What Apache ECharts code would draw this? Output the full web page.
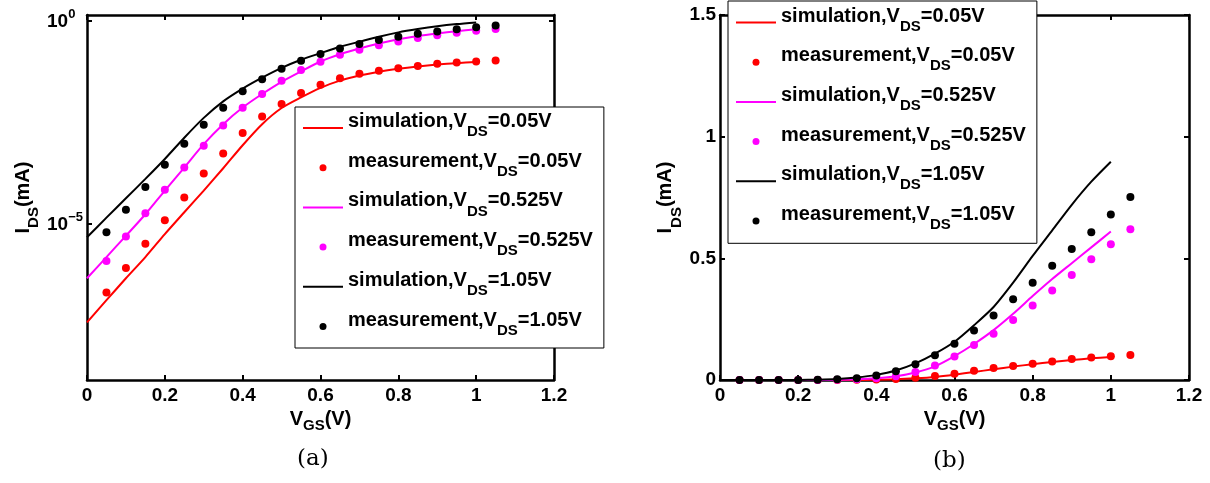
<!DOCTYPE html>
<html><head><meta charset="utf-8">
<script src="https://cdn.jsdelivr.net/npm/echarts@6/dist/echarts.min.js"></script>
<style>html,body{margin:0;padding:0;background:#fff}#c{width:1210px;height:483px}</style>
</head><body><div id="c"></div>
<script>
// ---- data ----
const vgsSim  = [0, 0.05, 0.1, 0.15, 0.2, 0.25, 0.3, 0.35, 0.4, 0.45, 0.5, 0.55, 0.6, 0.65, 0.7, 0.75, 0.8, 0.85, 0.9, 0.95, 1.0];
const vgsMeas = [0.05, 0.1, 0.15, 0.2, 0.25, 0.3, 0.35, 0.4, 0.45, 0.5, 0.55, 0.6, 0.65, 0.7, 0.75, 0.8, 0.85, 0.9, 0.95, 1.0, 1.05];
const simVds005  = [3.7e-8, 1.3e-7, 4.5e-7, 1.5e-6, 5.5e-6, 1.9e-5, 6.5e-5, 2.3e-4, 8.5e-4, 2.8e-3, 7.0e-3, 0.0128, 0.022, 0.033, 0.044, 0.055, 0.065, 0.074, 0.082, 0.089, 0.095];
const simVds0525 = [4.5e-7, 1.5e-6, 5e-6, 1.7e-5, 6.5e-5, 2.4e-4, 9e-4, 2.8e-3, 7.2e-3, 0.0155, 0.031, 0.056, 0.098, 0.148, 0.205, 0.272, 0.345, 0.415, 0.48, 0.545, 0.61];
const simVds105  = [4.6e-6, 1.4e-5, 4.2e-5, 1.26e-4, 3.9e-4, 1.3e-3, 4.0e-3, 0.0102, 0.021, 0.039, 0.068, 0.108, 0.157, 0.225, 0.30, 0.40, 0.51, 0.615, 0.72, 0.815, 0.897];
const measVds005  = [2.0e-7, 8.1e-7, 3.2e-6, 1.2e-5, 4.4e-5, 1.7e-4, 5.3e-4, 1.7e-3, 4.3e-3, 8.8e-3, 0.0165, 0.026, 0.038, 0.049, 0.058, 0.067, 0.076, 0.086, 0.092, 0.098, 0.103];
const measVds0525 = [1.2e-6, 4.8e-6, 1.8e-5, 6.8e-5, 2.4e-4, 8.3e-4, 2.6e-3, 7.1e-3, 0.0156, 0.033, 0.06, 0.097, 0.144, 0.19, 0.247, 0.306, 0.368, 0.432, 0.496, 0.558, 0.62];
const measVds105  = [6.1e-6, 2.2e-5, 7.9e-5, 2.8e-4, 9.2e-4, 2.7e-3, 7.1e-3, 0.018, 0.036, 0.065, 0.102, 0.149, 0.203, 0.265, 0.332, 0.40, 0.47, 0.538, 0.607, 0.68, 0.752];
const seriesNames = ['simulation,V_DS=0.05V', 'measurement,V_DS=0.05V', 'simulation,V_DS=0.525V', 'measurement,V_DS=0.525V', 'simulation,V_DS=1.05V', 'measurement,V_DS=1.05V'];
const logTickValues = [1e-5, 1];
const panelLabels = ['(a)', '(b)'];

// ---- styles ----
const FONT = "'Liberation Sans', Arial, sans-serif";
const colors = ['#ff0000', '#ff0000', '#ff00ff', '#ff00ff', '#000000', '#000000'];
const seriesData = [
  [vgsSim, simVds005], [vgsMeas, measVds005],
  [vgsSim, simVds0525], [vgsMeas, measVds0525],
  [vgsSim, simVds105], [vgsMeas, measVds105]
];
const LINE_ICON = 'path://M0,0L40,0L40,2L0,2Z';

function pairs(xs, ys) { return xs.map((x, i) => [x, ys[i]]); }

function buildSeries(xIdx, yIdx) {
  return seriesNames.map((n, i) => {
    const [xs, ys] = seriesData[i];
    const isLine = i % 2 === 0;
    if (isLine) {
      return { type: 'line', name: n, xAxisIndex: xIdx, yAxisIndex: yIdx, data: pairs(xs, ys),
        showSymbol: false, smooth: 0.25,
        lineStyle: { color: colors[i], width: 2 }, itemStyle: { color: colors[i] }, z: 2 + i * 0.01 };
    }
    return { type: 'scatter', name: n, xAxisIndex: xIdx, yAxisIndex: yIdx, data: pairs(xs, ys),
      symbol: 'circle', symbolSize: 8, itemStyle: { color: colors[i], opacity: 1 }, z: 2 + i * 0.01 };
  });
}

const legendRich = {
  m: { fontFamily: FONT, fontWeight: 'bold', fontSize: 20, lineHeight: 20, color: '#000', padding: [0, 0, 13, 0] },
  s: { fontFamily: FONT, fontWeight: 'bold', fontSize: 15, lineHeight: 15, color: '#000', padding: [8, 0, 0, 0] }
};
function legendFmt(name) {
  const m = name.match(/^(.*V)_DS(=.*)$/);
  return '{m|' + m[1] + '}{s|DS}{m|' + m[2] + '}';
}
function makeLegend(left, top, padding) {
  return {
    orient: 'vertical', left: left, top: top,
    data: seriesNames.map((n, i) => ({ name: n, icon: i % 2 === 0 ? LINE_ICON : 'circle' })),
    itemWidth: 40, itemHeight: 7, itemGap: 6.7,
    padding: padding, backgroundColor: '#fff', borderColor: '#000', borderWidth: 1, borderRadius: 0,
    itemStyle: { borderWidth: 0, opacity: 1 },
    textStyle: { rich: legendRich },
    formatter: legendFmt, selectedMode: false, z: 10
  };
}

const xNameRich = {
  m: { fontFamily: FONT, fontWeight: 'bold', fontSize: 20, lineHeight: 20, color: '#000', padding: [0, 0, 4, 0] },
  s: { fontFamily: FONT, fontWeight: 'bold', fontSize: 15, lineHeight: 15, color: '#000', padding: [8, 0, 0, 0] }
};
const yNameRich = {
  m: { fontFamily: FONT, fontWeight: 'bold', fontSize: 20, lineHeight: 20, color: '#000', padding: [0, 0, 10, 0] },
  s: { fontFamily: FONT, fontWeight: 'bold', fontSize: 15, lineHeight: 15, color: '#000', padding: [12, 0, 0, 0] }
};
const axisLineStyle = { show: true, onZero: false, lineStyle: { color: '#000', width: 2.5 } };
const tickStyle = { show: true, inside: true, length: 5, lineStyle: { color: '#000', width: 2 } };
const labelStyle = { fontFamily: FONT, fontWeight: 'bold', fontSize: 19, color: '#000' };

function xAxes(gridIndex) {
  return [
    { type: 'value', gridIndex, position: 'bottom', min: 0, max: 1.2, interval: 0.2,
      axisLine: axisLineStyle, axisTick: tickStyle, splitLine: { show: false },
      axisLabel: Object.assign({ margin: 6 }, labelStyle),
      name: '{m|V}{s|GS}{m|(V)}', nameLocation: 'middle', nameGap: 27,
      nameTextStyle: { rich: xNameRich } },
    { type: 'value', gridIndex, position: 'top', min: 0, max: 1.2, interval: 0.2,
      axisLine: axisLineStyle, axisTick: tickStyle, splitLine: { show: false }, axisLabel: { show: false } }
  ];
}

const supRich = {
  b: { fontFamily: FONT, fontWeight: 'bold', fontSize: 19, lineHeight: 19, color: '#000', padding: [2, 0, 0, 0] },
  p: { fontFamily: FONT, fontWeight: 'bold', fontSize: 13, lineHeight: 13, color: '#000', padding: [0, 0, 13, 0] }
};
function logFmt(v) {
  const e = Math.round(Math.log10(v));
  return '{b|10}{p|' + (e < 0 ? '\u2212' + (-e) : String(e)) + '}';
}

const option = {
  animation: false,
  backgroundColor: '#fff',
  grid: [
    { left: 87, top: 15, width: 467, height: 365 },
    { left: 720, top: 15, width: 469, height: 365 }
  ],
  xAxis: [...xAxes(0), ...xAxes(1)],
  yAxis: [
    { type: 'log', gridIndex: 0, position: 'left', logBase: 10, min: 1.41e-9, max: 1.365,
      axisLine: axisLineStyle, splitLine: { show: false }, minorTick: { show: false },
      axisTick: Object.assign({ customValues: logTickValues }, tickStyle),
      axisLabel: { customValues: logTickValues, align: 'left', margin: 40, formatter: logFmt, rich: supRich },
      name: '{m|I}{s|DS}{m|(mA)}', nameLocation: 'middle', nameGap: 41, nameTextStyle: { rich: yNameRich } },
    { type: 'log', gridIndex: 0, position: 'right', logBase: 10, min: 1.41e-9, max: 1.365,
      axisLine: axisLineStyle, splitLine: { show: false },
      axisTick: Object.assign({ customValues: logTickValues }, tickStyle),
      axisLabel: { show: false } },
    { type: 'value', gridIndex: 1, position: 'left', min: 0, max: 1.5, interval: 0.5,
      axisLine: axisLineStyle, axisTick: tickStyle, splitLine: { show: false },
      axisLabel: Object.assign({ margin: 4 }, labelStyle),
      name: '{m|I}{s|DS}{m|(mA)}', nameLocation: 'middle', nameGap: 37, nameTextStyle: { rich: yNameRich } },
    { type: 'value', gridIndex: 1, position: 'right', min: 0, max: 1.5, interval: 0.5,
      axisLine: axisLineStyle, axisTick: tickStyle, splitLine: { show: false }, axisLabel: { show: false } }
  ],
  legend: [
    makeLegend(295, 107, [4.5, 11, 5, 8]),
    makeLegend(728, 1, [5, 11, 5.8, 8])
  ],
  series: [...buildSeries(0, 0), ...buildSeries(2, 2)],
  graphic: [
    { type: 'text', left: 297, top: 448, style: { text: panelLabels[0], fontFamily: "'DejaVu Serif', serif", fontSize: 23, fill: '#000' } },
    { type: 'text', left: 933, top: 450, style: { text: panelLabels[1], fontFamily: "'DejaVu Serif', serif", fontSize: 23, fill: '#000' } }
  ]
};
const chart = echarts.init(document.getElementById('c'), null, { renderer: 'canvas' });
chart.setOption(option);
</script>
</body></html>
